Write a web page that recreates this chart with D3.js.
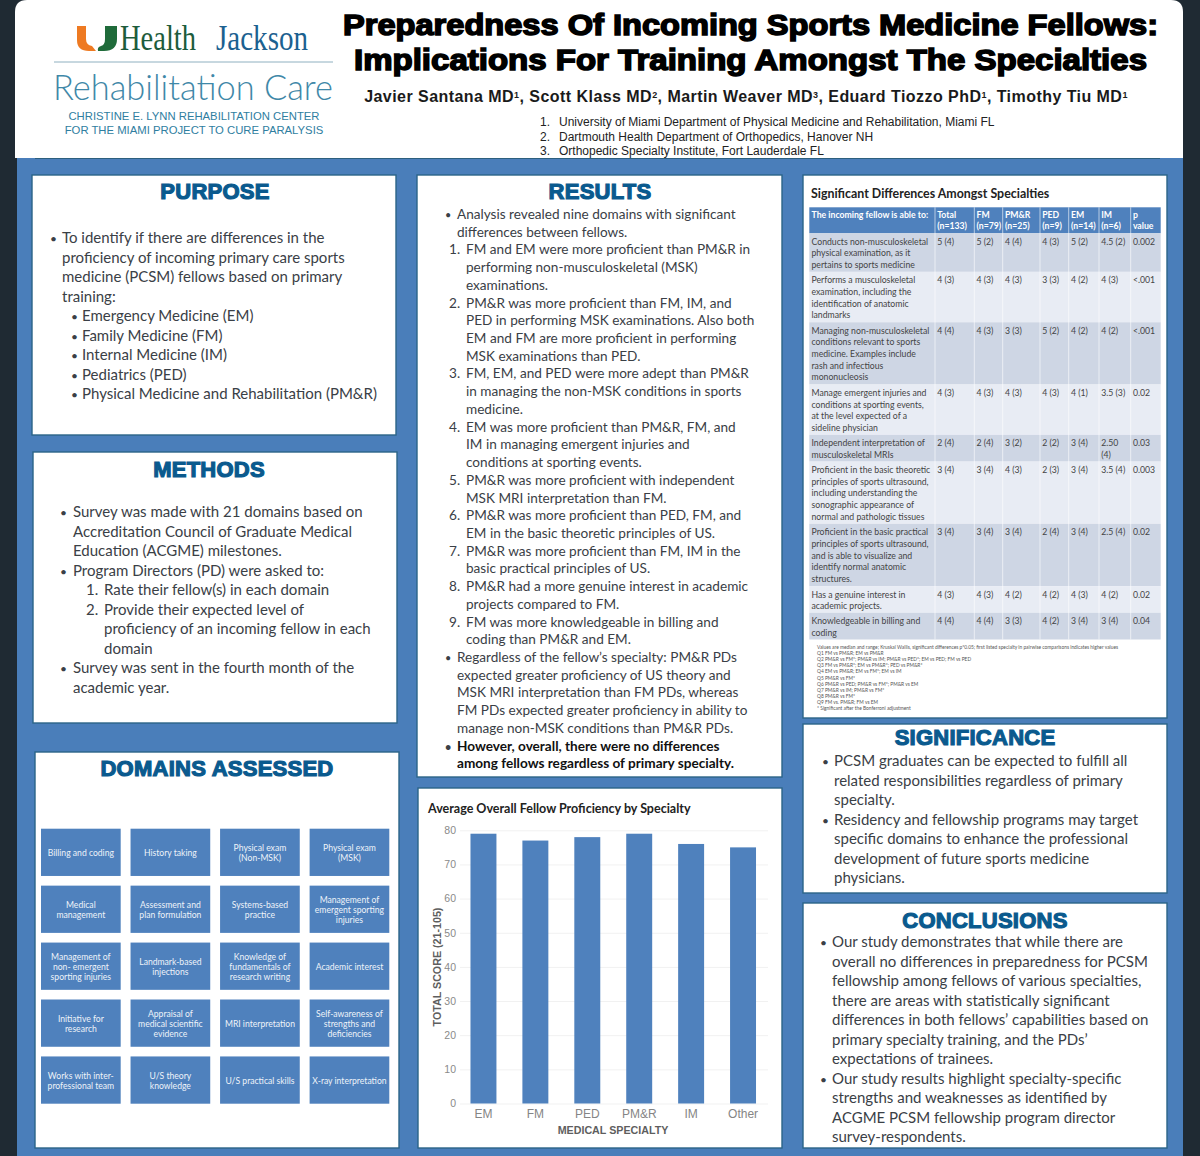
<!DOCTYPE html>
<html lang="en">
<head>
<meta charset="UTF-8">
<title>Preparedness Of Incoming Sports Medicine Fellows</title>
<style>
  html, body { margin: 0; padding: 0; background: #1f2a33; }
  svg { display: block; }
  text { font-family: Lato, "Open Sans", sans-serif; }
  .sans { font-family: "Liberation Sans", Arial, sans-serif; }
</style>
</head>
<body>
<div id="poster"></div>
<script src="https://cdn.jsdelivr.net/npm/d3@7"></script>
<script>
// chart values
const specialties = ["EM", "FM", "PED", "PM&R", "IM", "Other"];
const avgScores = [79, 77, 78, 79, 76, 75];
const scoreTicks = [0, 10, 20, 30, 40, 50, 60, 70, 80];

// table
const tableHeaders = [["The incoming fellow is able to:"], ["Total", "(n=133)"], ["FM", "(n=79)"], ["PM&R", "(n=25)"], ["PED", "(n=9)"], ["EM", "(n=14)"], ["IM", "(n=6)"], ["p", "value"]];
const tableDomains = [
  ["Conducts non-musculoskeletal", "physical examination, as it", "pertains to sports medicine"],
  ["Performs a musculoskeletal", "examination, including the", "identification of anatomic", "landmarks"],
  ["Managing non-musculoskeletal", "conditions relevant to sports", "medicine. Examples include", "rash and infectious", "mononucleosis"],
  ["Manage emergent injuries and", "conditions at sporting events,", "at the level expected of a", "sideline physician"],
  ["Independent interpretation of", "musculoskeletal MRIs"],
  ["Proficient in the basic theoretic", "principles of sports ultrasound,", "including understanding the", "sonographic appearance of", "normal and pathologic tissues"],
  ["Proficient in the basic practical", "principles of sports ultrasound,", "and is able to visualize and", "identify normal anatomic", "structures."],
  ["Has a genuine interest in", "academic projects."],
  ["Knowledgeable in billing and", "coding"]
];
const totalCol = ["5 (4)", "4 (3)", "4 (4)", "4 (3)", "2 (4)", "3 (4)", "3 (4)", "4 (3)", "4 (4)"];
const fmCol = ["5 (2)", "4 (3)", "4 (3)", "4 (3)", "2 (4)", "3 (4)", "3 (4)", "4 (3)", "4 (4)"];
const pmrCol = ["4 (4)", "4 (3)", "3 (3)", "4 (3)", "3 (2)", "4 (3)", "3 (4)", "4 (2)", "3 (3)"];
const pedCol = ["4 (3)", "3 (3)", "5 (2)", "4 (3)", "2 (2)", "2 (3)", "2 (4)", "4 (2)", "4 (2)"];
const emCol = ["5 (2)", "4 (2)", "4 (2)", "4 (1)", "3 (4)", "3 (4)", "3 (4)", "4 (3)", "3 (4)"];
const imCol = ["4.5 (2)", "4 (3)", "4 (2)", "3.5 (3)", "2.50|(4)", "3.5 (4)", "2.5 (4)", "4 (2)", "3 (4)"];
const pCol = ["0.002", "<.001", "<.001", "0.02", "0.03", "0.003", "0.02", "0.02", "0.04"];
const tableNotes = [
  "Values are median and range; Kruskal Wallis, significant differences p*0.05; first listed specialty in pairwise comparisons indicates higher values",
  "Q1 FM vs PM&R; EM vs PM&R",
  "Q2 PM&R vs FM*; PM&R vs IM; PM&R vs PED*; EM vs PED; FM vs PED",
  "Q3 FM vs PM&R*; EM vs PM&R*; PED vs PM&R*",
  "Q4 EM vs PM&R; EM vs FM*; EM vs IM",
  "Q5 PM&R vs FM*",
  "Q6 PM&R vs PED; PM&R vs FM*; PM&R vs EM",
  "Q7 PM&R vs IM; PM&R vs FM*",
  "Q8 PM&R vs FM*",
  "Q9 FM vs. PM&R; FM vs EM",
  "* Significant after the Bonferroni adjustment"
];

// domain boxes
const domainBoxes = [
  ["Billing and coding"], ["History taking"], ["Physical exam", "(Non-MSK)"], ["Physical exam", "(MSK)"],
  ["Medical", "management"], ["Assessment and", "plan formulation"], ["Systems-based", "practice"], ["Management of", "emergent sporting", "injuries"],
  ["Management of", "non- emergent", "sporting injuries"], ["Landmark-based", "injections"], ["Knowledge of", "fundamentals of", "research writing"], ["Academic interest"],
  ["Initiative for", "research"], ["Appraisal of", "medical scientific", "evidence"], ["MRI interpretation"], ["Self-awareness of", "strengths and", "deficiencies"],
  ["Works with inter-", "professional team"], ["U/S theory", "knowledge"], ["U/S practical skills"], ["X-ray interpretation"]
];

// text panels: [level, marker, lines, bold]
const purposeText = [
  [0, "•", ["To identify if there are differences in the", "proficiency of incoming primary care sports", "medicine (PCSM) fellows based on primary", "training:"]],
  [1, "•", ["Emergency Medicine (EM)"]],
  [1, "•", ["Family Medicine (FM)"]],
  [1, "•", ["Internal Medicine (IM)"]],
  [1, "•", ["Pediatrics (PED)"]],
  [1, "•", ["Physical Medicine and Rehabilitation (PM&R)"]]
];
const methodsText = [
  [0, "•", ["Survey was made with 21 domains based on", "Accreditation Council of Graduate Medical", "Education (ACGME) milestones."]],
  [0, "•", ["Program Directors (PD) were asked to:"]],
  [1, "1.", ["Rate their fellow(s) in each domain"]],
  [1, "2.", ["Provide their expected level of", "proficiency of an incoming fellow in each", "domain"]],
  [0, "•", ["Survey was sent in the fourth month of the", "academic year."]]
];
const resultsText = [
  [0, "•", ["Analysis revealed nine domains with significant", "differences between fellows."]],
  [1, "1.", ["FM and EM were more proficient than PM&R in", "performing non-musculoskeletal (MSK)", "examinations."]],
  [1, "2.", ["PM&R was more proficient than FM, IM, and", "PED in performing MSK examinations. Also both", "EM and FM are more proficient in performing", "MSK examinations than PED."]],
  [1, "3.", ["FM, EM, and PED were more adept than PM&R", "in managing the non-MSK conditions in sports", "medicine."]],
  [1, "4.", ["EM was more proficient than PM&R, FM, and", "IM in managing emergent injuries and", "conditions at sporting events."]],
  [1, "5.", ["PM&R was more proficient with independent", "MSK MRI interpretation than FM."]],
  [1, "6.", ["PM&R was more proficient than PED, FM, and", "EM in the basic theoretic principles of US."]],
  [1, "7.", ["PM&R was more proficient than FM, IM in the", "basic practical principles of US."]],
  [1, "8.", ["PM&R had a more genuine interest in academic", "projects compared to FM."]],
  [1, "9.", ["FM was more knowledgeable in billing and", "coding than PM&R and EM."]],
  [0, "•", ["Regardless of the fellow’s specialty: PM&R PDs", "expected greater proficiency of US theory and", "MSK MRI interpretation than FM PDs, whereas", "FM PDs expected greater proficiency in ability to", "manage non-MSK conditions than PM&R PDs."]],
  [0, "•", ["However, overall, there were no differences", "among fellows regardless of primary specialty."], true]
];
const significanceText = [
  [0, "•", ["PCSM graduates can be expected to fulfill all", "related responsibilities regardless of primary", "specialty."]],
  [0, "•", ["Residency and fellowship programs may target", "specific domains to enhance the professional", "development of future sports medicine", "physicians."]]
];
const conclusionsText = [
  [0, "•", ["Our study demonstrates that while there are", "overall no differences in preparedness for PCSM", "fellowship among fellows of various specialties,", "there are areas with statistically significant", "differences in both fellows’ capabilities based on", "primary specialty training, and the PDs’", "expectations of trainees."]],
  [0, "•", ["Our study results highlight specialty-specific", "strengths and weaknesses as identified by", "ACGME PCSM fellowship program director", "survey-respondents."]]
];

const authors = [["Javier Santana MD", "1"], ["Scott Klass MD", "2"], ["Martin Weaver MD", "3"], ["Eduard Tiozzo PhD", "1"], ["Timothy Tiu MD", "1"]];
const affiliations = ["University of Miami Department of Physical Medicine and Rehabilitation, Miami FL", "Dartmouth Health Department of Orthopedics, Hanover NH", "Orthopedic Specialty Institute, Fort Lauderdale FL"];

const BLUE = "#4a7eba", BAR = "#4f81bd", HEAD = "#0a5a8e", INK = "#3a4046";

const svg = d3.select("#poster").append("svg").attr("width", 1200).attr("height", 1156);

// backdrop
svg.append("rect").attr("width", 1200).attr("height", 1156).attr("fill", "#1f2a33");
svg.append("rect").attr("x", 17).attr("y", 140).attr("width", 1166).attr("height", 1022).attr("rx", 5).attr("fill", BLUE);
svg.append("path").attr("d", "M15 158V12Q15 0 27 0H1171Q1183 0 1183 12V158Z").attr("fill", "#fff");
svg.append("line").attr("x1", 35).attr("x2", 1160).attr("y1", 158.5).attr("y2", 158.5).attr("stroke", "#2d5f7e").attr("stroke-width", 1);

// logo
const logo = svg.append("g");
logo.append("path").attr("d", "M77 26h9v13q0 6 6 7l4 5h-7q-12 0-12-11z").attr("fill", "#ee7a22");
logo.append("path").attr("d", "M98 51q-1-4 3-5 4-1 4-7V26h12v13q0 12-13 12z").attr("fill", "#1f6b3a");
logo.append("text").attr("x", 120).attr("y", 50).attr("font-size", 36).attr("fill", "#1d5c3c")
  .attr("textLength", 76).attr("lengthAdjust", "spacingAndGlyphs")
  .style("font-family", "'Liberation Serif', serif").text("Health");
logo.append("text").attr("x", 216).attr("y", 50).attr("font-size", 36).attr("fill", "#1c6190")
  .attr("textLength", 92).attr("lengthAdjust", "spacingAndGlyphs")
  .style("font-family", "'Liberation Serif', serif").text("Jackson");
logo.append("line").attr("x1", 54).attr("x2", 333).attr("y1", 62).attr("y2", 62).attr("stroke", "#8fb0c0").attr("stroke-width", 1);
logo.append("text").attr("x", 53).attr("y", 100).attr("font-size", 36).attr("fill", "#3f88a8")
  .attr("textLength", 280).attr("lengthAdjust", "spacingAndGlyphs").attr("font-weight", 300).text("Rehabilitation Care");
logo.append("text").attr("class", "sans").attr("x", 194).attr("y", 120).attr("text-anchor", "middle").attr("font-size", 11.3).attr("fill", "#2f7e9f")
  .text("CHRISTINE E. LYNN REHABILITATION CENTER");
logo.append("text").attr("class", "sans").attr("x", 194).attr("y", 134).attr("text-anchor", "middle").attr("font-size", 11.3).attr("fill", "#2f7e9f")
  .text("FOR THE MIAMI PROJECT TO CURE PARALYSIS");

// title block
[["Preparedness Of Incoming Sports Medicine Fellows:", 35, 815], ["Implications For Training Amongst The Specialties", 70, 793]].forEach(([t, y, w]) => {
  svg.append("text").attr("class", "sans").attr("x", 750.5 - w / 2).attr("y", y)
    .attr("font-size", 29).attr("font-weight", 700).attr("fill", "#000")
    .attr("textLength", w).attr("lengthAdjust", "spacingAndGlyphs")
    .attr("stroke", "#000").attr("stroke-width", 1.5).text(t);
});
const authorLine = svg.append("text").attr("class", "sans").attr("x", 746).attr("y", 102).attr("text-anchor", "middle")
  .attr("font-weight", 700).attr("fill", "#1a1a1a")
  .attr("letter-spacing", 0.45);
authors.forEach(([name, sup], i) => {
  authorLine.append("tspan").attr("dy", i ? 4 : 0).attr("font-size", 16).text((i ? ", " : "") + name);
  authorLine.append("tspan").attr("dy", -4).attr("font-size", 9).text(sup);
});
affiliations.forEach((t, i) => {
  const y = 126 + i * 14.6;
  svg.append("text").attr("class", "sans").attr("x", 540).attr("y", y).attr("font-size", 12).attr("fill", "#222").text((i + 1) + ".");
  svg.append("text").attr("class", "sans").attr("x", 559).attr("y", y).attr("font-size", 12).attr("fill", "#222").text(t);
});

// panels
function panel(x0, x1, y0, y1) {
  svg.append("rect").attr("x", x0).attr("y", y0).attr("width", x1 - x0).attr("height", y1 - y0)
    .attr("fill", "#fff").attr("stroke", "#2b6488").attr("stroke-width", 1.4);
}
function heading(t, cx, y) {
  svg.append("text").attr("class", "sans").attr("x", cx).attr("y", y).attr("text-anchor", "middle")
    .attr("font-size", 22).attr("font-weight", 700).attr("fill", HEAD).attr("letter-spacing", 0.25)
    .attr("stroke", HEAD).attr("stroke-width", 1.2).text(t);
}
// writes a bullet/number list line by line
function textBlock(items, opt) {
  let y = opt.y;
  items.forEach(([level, marker, lines, bold]) => {
    const [mx, tx] = opt.levels[level];
    svg.append("text").attr("x", mx).attr("y", y).attr("font-size", marker === "•" ? opt.size * 0.8 : opt.size).attr("fill", INK)
      .attr("font-weight", bold ? 700 : 400).text(marker);
    lines.forEach(line => {
      svg.append("text").attr("x", tx).attr("y", y).attr("font-size", opt.size).attr("fill", bold ? "#111" : INK)
        .attr("font-weight", bold ? 700 : 400).text(line);
      y += opt.pitch;
    });
  });
}

panel(32, 396, 175, 435);
heading("PURPOSE", 215, 199);
textBlock(purposeText, { y: 243, pitch: 19.5, size: 15, levels: [[50, 62], [71, 82]] });

panel(33, 397, 452, 723);
heading("METHODS", 209, 477);
textBlock(methodsText, { y: 517, pitch: 19.5, size: 15, levels: [[60, 73], [86, 104]] });

panel(417, 782, 175, 777);
heading("RESULTS", 600, 199);
textBlock(resultsText, { y: 219, pitch: 17.72, size: 13.6, levels: [[445, 457], [449, 466]] });

panel(803, 1167, 724, 893);
heading("SIGNIFICANCE", 975, 745);
textBlock(significanceText, { y: 766, pitch: 19.5, size: 15, levels: [[822, 834]] });

panel(803, 1167, 903, 1148);
heading("CONCLUSIONS", 985, 928);
textBlock(conclusionsText, { y: 947, pitch: 19.5, size: 15, levels: [[820, 832]] });

// domains grid
panel(35, 399, 752, 1148);
heading("DOMAINS ASSESSED", 217, 776);
const gridX = d3.scaleBand().domain(d3.range(4)).range([41, 389.3]).paddingInner(0.11).paddingOuter(0);
const gridY = d3.scaleBand().domain(d3.range(5)).range([828.7, 1103.7]).paddingInner(0.17).paddingOuter(0);
const boxes = svg.append("g").selectAll("g").data(domainBoxes).join("g")
  .attr("transform", (d, i) => `translate(${gridX(i % 4)},${gridY(Math.floor(i / 4))})`);
boxes.append("rect").attr("width", gridX.bandwidth()).attr("height", gridY.bandwidth()).attr("fill", BAR);
boxes.each(function (lines) {
  const g = d3.select(this);
  lines.forEach((line, j) => {
    g.append("text").attr("x", gridX.bandwidth() / 2)
      .attr("y", gridY.bandwidth() / 2 + 4 + (j - (lines.length - 1) / 2) * 10.2)
      .attr("text-anchor", "middle").attr("font-size", 8.6).attr("fill", "#eef3f9").text(line);
  });
});

// table
panel(803, 1167, 175, 718);
svg.append("text").attr("x", 811).attr("y", 198).attr("font-size", 12.4).attr("font-weight", 700).attr("fill", "#222")
  .text("Significant Differences Amongst Specialties");
const colEdges = [809.3, 935, 974.3, 1002.7, 1040, 1068.7, 1099, 1130.7, 1160.7];
const valueCols = [totalCol, fmCol, pmrCol, pedCol, emCol, imCol, pCol];
const tableX = 809.3, tableW = 351.4;
svg.append("rect").attr("x", tableX).attr("y", 207.3).attr("width", tableW).attr("height", 26).attr("fill", BAR);
tableHeaders.forEach((lines, c) => {
  lines.forEach((line, j) => {
    svg.append("text").attr("x", colEdges[c] + 2.2).attr("y", 218 + j * 11).attr("font-size", 8.7).attr("font-weight", 700)
      .attr("fill", "#fff").text(line);
  });
});
let rowY = 233.3;
tableDomains.forEach((lines, r) => {
  const h = 3 + lines.length * 11.85;
  svg.append("rect").attr("x", tableX).attr("y", rowY).attr("width", tableW).attr("height", h).attr("fill", r % 2 ? "#e8ecf4" : "#ced6e4");
  lines.forEach((line, j) => {
    svg.append("text").attr("x", tableX + 2.2).attr("y", rowY + 11.5 + j * 11.6).attr("font-size", 8.7).attr("fill", "#444").text(line);
  });
  valueCols.forEach((col, c) => {
    col[r].split("|").forEach((part, j) => {
      svg.append("text").attr("x", colEdges[c + 1] + 2.2).attr("y", rowY + 11.5 + j * 11.6).attr("font-size", 8.7).attr("fill", "#444").text(part);
    });
  });
  rowY += h;
});
colEdges.slice(1, -1).forEach(x => {
  svg.append("line").attr("x1", x).attr("x2", x).attr("y1", 207.3).attr("y2", rowY).attr("stroke", "#fff").attr("stroke-width", 0.6);
});
tableNotes.forEach((t, i) => {
  svg.append("text").attr("x", 817).attr("y", 649 + i * 6.1).attr("font-size", 4.85).attr("fill", "#555").text(t);
});

// bar chart
panel(418, 782, 788, 1148);
svg.append("text").attr("x", 428).attr("y", 813).attr("font-size", 12.5).attr("font-weight", 700).attr("fill", "#222")
  .text("Average Overall Fellow Proficiency by Specialty");

const x = d3.scaleBand().domain(specialties).range([457.5, 769]).paddingInner(0.5).paddingOuter(0.25);
const y = d3.scaleLinear().domain([0, 80]).range([1103.5, 830.3]);

const yAxis = svg.append("g").attr("transform", "translate(460,0)")
  .call(d3.axisLeft(y).tickValues(scoreTicks).tickSize(-308).tickPadding(4));
yAxis.select(".domain").remove();
yAxis.selectAll(".tick line").attr("stroke", "#f1f1f1");
yAxis.selectAll("text").attr("class", "sans").attr("font-size", 10.5).attr("fill", "#8a8a8a");

svg.append("g").selectAll("rect").data(specialties).join("rect")
  .attr("x", d => x(d)).attr("width", x.bandwidth())
  .attr("y", (d, i) => y(avgScores[i])).attr("height", (d, i) => y(0) - y(avgScores[i]))
  .attr("fill", BAR);

const xAxis = svg.append("g").attr("transform", "translate(0,1103.5)")
  .call(d3.axisBottom(x).tickSize(0).tickPadding(6));
xAxis.select(".domain").remove();
xAxis.selectAll("text").attr("class", "sans").attr("font-size", 12).attr("fill", "#858585");

svg.append("text").attr("class", "sans").attr("x", 613).attr("y", 1134).attr("text-anchor", "middle")
  .attr("font-size", 10.7).attr("font-weight", 700).attr("fill", "#5e5e5e").text("MEDICAL SPECIALTY");
svg.append("text").attr("class", "sans").attr("transform", "translate(441,967) rotate(-90)").attr("text-anchor", "middle")
  .attr("font-size", 10.7).attr("font-weight", 700).attr("fill", "#5e5e5e").text("TOTAL SCORE (21-105)");
</script>
</body>
</html>
